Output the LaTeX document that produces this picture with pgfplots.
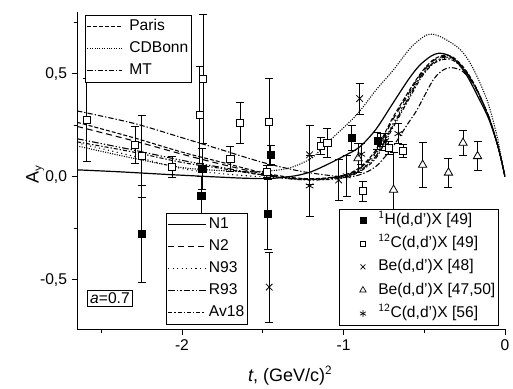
\documentclass[border=0pt]{standalone}
\usepackage{fontspec}
\setmainfont{Liberation Sans}
\usepackage{pgfplots}
\pgfplotsset{compat=1.18}
\begin{document}
\begin{tikzpicture}
\pgfplotsset{
  common/.style={
    scale only axis, width=321pt, height=238pt,
    xmin=-2.65, xmax=0, ymin=-0.74, ymax=0.80,
  },
  lgd/.style={
    legend cell align=left,
    legend style={draw=black, line width=0.5pt, fill=white, font=\fontsize{11.7}{13}\selectfont,
      inner xsep=1pt, inner ysep=1.5pt, row sep=#1,
      nodes={inner sep=1.5pt, text height=8.5pt, text depth=2.5pt}},
  },
  mleg/.style={legend image code/.code={\path[draw=none, fill=none] (0pt,0pt) -- (27pt,0pt); \draw[##1] plot coordinates {(17pt,0pt)};}},
}
\begin{axis}[common, lgd=2.5pt,
  axis x line*=bottom, axis y line*=left,
  axis line style={-, line width=0.6pt},
  tick align=outside, tick style={line width=0.6pt, black},
  major tick length=4pt, minor tick length=2.5pt,
  xtick={-2,-1,0}, minor xtick={-2.5,-1.5,-0.5},
  ytick={-0.5,0,0.5}, minor ytick={-0.25,0.25,0.75},
  /pgf/number format/assume math mode=true,
  yticklabel style={/pgf/number format/.cd, use comma, fixed, fixed zerofill, precision=1},
  xticklabel style={/pgf/number format/.cd, fixed},
  tick label style={font=\fontsize{11.7}{13}\selectfont},
  xlabel={\textit{t}, (GeV/c)$^{\mathsf{2}}$},
  ylabel={A$_{\mathsf{y}}$},
  label style={font=\fontsize{13.5}{15}\selectfont},
  xlabel style={at={(axis description cs:0.498,-0.145)}, anchor=center},
  ylabel style={at={(axis description cs:-0.098,0.49)}, anchor=center},
  legend style={at={(0.208,0.016)}, anchor=south west},
  legend image code/.code={\path[draw=none, fill=none] (0pt,0pt) -- (29pt,0pt); \draw[#1] (0pt,0pt) -- (28pt,0pt);},
]
% ---- curves ----
\addplot[black, line width=0.9pt, smooth] coordinates {
(-2.65,0.034)(-2.4,0.025)(-2.1,0.012)(-1.8,0.0)(-1.6,-0.007)(-1.45,-0.008)(-1.3,0.005)(-1.2,0.025)(-1.1,0.06)(-1.0,0.10)(-0.9,0.145)(-0.8,0.23)(-0.7,0.35)(-0.6,0.47)(-0.53,0.54)(-0.46,0.585)(-0.41,0.60)(-0.35,0.59)(-0.3,0.56)(-0.235,0.49)(-0.155,0.37)(-0.1,0.28)(-0.05,0.165)(-0.025,0.09)(0,0)};
\addlegendentry{N1}
\addplot[black, line width=0.8pt, dash pattern=on 4.5pt off 3pt, smooth] coordinates {
(-2.65,0.245)(-2.3,0.175)(-2.0,0.11)(-1.75,0.06)(-1.5,0.015)(-1.3,-0.008)(-1.15,-0.01)(-1.0,0.005)(-0.9,0.04)(-0.8,0.12)(-0.7,0.27)(-0.6,0.40)(-0.52,0.50)(-0.45,0.56)(-0.38,0.585)(-0.32,0.575)(-0.25,0.52)(-0.18,0.43)(-0.1,0.29)(-0.05,0.165)(-0.025,0.09)(0,0)};
\addlegendentry{N2}
\addplot[black, line width=0.8pt, dash pattern=on 0.8pt off 2.6pt, smooth] coordinates {
(-2.65,0.165)(-2.3,0.10)(-2.0,0.04)(-1.75,0.015)(-1.5,0.0)(-1.3,-0.01)(-1.15,-0.012)(-1.0,0.0)(-0.9,0.035)(-0.8,0.11)(-0.7,0.25)(-0.6,0.39)(-0.52,0.49)(-0.45,0.55)(-0.38,0.575)(-0.32,0.57)(-0.25,0.515)(-0.18,0.43)(-0.1,0.29)(-0.05,0.165)(-0.025,0.09)(0,0)};
\addlegendentry{N93}
\addplot[black, line width=0.8pt, dash pattern=on 5pt off 1.5pt on 1pt off 1.5pt on 1pt off 1.5pt, smooth] coordinates {
(-2.65,0.185)(-2.3,0.13)(-2.0,0.08)(-1.75,0.045)(-1.5,0.01)(-1.3,-0.01)(-1.15,-0.012)(-1.0,0.0)(-0.9,0.03)(-0.8,0.10)(-0.7,0.24)(-0.6,0.38)(-0.52,0.49)(-0.45,0.55)(-0.38,0.58)(-0.32,0.572)(-0.25,0.52)(-0.18,0.43)(-0.1,0.29)(-0.05,0.165)(-0.025,0.09)(0,0)};
\addlegendentry{R93}
\addplot[black, line width=0.8pt, dash pattern=on 3pt off 1.5pt on 1pt off 1.5pt, smooth] coordinates {
(-2.65,0.17)(-2.3,0.12)(-2.0,0.07)(-1.75,0.04)(-1.5,0.008)(-1.3,-0.012)(-1.15,-0.015)(-1.0,-0.005)(-0.9,0.025)(-0.8,0.09)(-0.7,0.23)(-0.6,0.37)(-0.52,0.48)(-0.45,0.545)(-0.38,0.57)(-0.32,0.565)(-0.25,0.515)(-0.18,0.43)(-0.1,0.29)(-0.05,0.165)(-0.025,0.09)(0,0)};
\addlegendentry{Av18}
% Paris
\addplot[black, line width=0.8pt, dash pattern=on 3pt off 1.5pt, smooth, forget plot] coordinates {
(-2.65,0.265)(-2.3,0.19)(-2.0,0.12)(-1.75,0.07)(-1.5,0.02)(-1.3,-0.005)(-1.15,-0.008)(-1.0,0.008)(-0.9,0.045)(-0.8,0.13)(-0.7,0.28)(-0.6,0.41)(-0.52,0.505)(-0.45,0.565)(-0.38,0.59)(-0.32,0.58)(-0.25,0.525)(-0.18,0.435)(-0.1,0.29)(-0.05,0.165)(-0.025,0.09)(0,0)};
% CDBonn
\addplot[black, line width=0.8pt, dash pattern=on 0.8pt off 1pt, smooth, forget plot] coordinates {
(-2.65,0.15)(-2.3,0.09)(-2.0,0.045)(-1.75,0.03)(-1.55,0.025)(-1.35,0.04)(-1.2,0.09)(-1.1,0.165)(-0.92,0.30)(-0.8,0.42)(-0.69,0.52)(-0.58,0.63)(-0.48,0.69)(-0.4,0.68)(-0.28,0.62)(-0.2,0.53)(-0.11,0.37)(-0.05,0.2)(-0.025,0.1)(0,0)};
% MT
\addplot[black, line width=0.8pt, dash pattern=on 4pt off 1.5pt on 1pt off 1.5pt, smooth, forget plot] coordinates {
(-2.65,0.32)(-2.3,0.26)(-2.0,0.19)(-1.75,0.13)(-1.5,0.07)(-1.25,0.025)(-1.0,0.0)(-0.9,0.01)(-0.8,0.05)(-0.7,0.14)(-0.6,0.26)(-0.545,0.325)(-0.445,0.47)(-0.38,0.52)(-0.33,0.53)(-0.26,0.51)(-0.18,0.43)(-0.1,0.29)(-0.05,0.165)(-0.025,0.09)(0,0)};
% ---- data ----
\pgfplotsset{every error bar/.style={black, line width=0.6pt}, error bars/error mark options={rotate=90, mark size=3pt, line width=0.6pt}}
% 12C(d,d')X [49]
\addplot[only marks, mark=square*, mark size=2.7pt, mark options={fill=white, line width=0.6pt}, forget plot,
  error bars/.cd, y dir=both, y explicit] coordinates {
(-2.59,0.277) +- (0,0.2)
(-2.29,0.155) +- (0,0.09)
(-2.25,0.10) +- (0,0.2)
(-2.06,0.048) +- (0,0.05)
(-1.87,0.475) +- (0,0.315)
(-1.89,0.30) +- (0,0.235)
(-1.70,0.088) +- (0,0.06)
(-1.64,0.26) +- (0,0.1)
(-1.46,0.267) +- (0,0.21)
(-1.475,0.025) +- (0,0.03)
(-1.14,0.15) +- (0,0.04)
(-1.10,0.165) +- (0,0.07)
(-0.88,-0.07) +- (0,0.05)
(-0.72,0.14) +- (0,0.03)
(-0.63,0.126) +- (0,0.03)};
% 1H(d,d')X [49]
\addplot[only marks, mark=square*, mark size=2.7pt, mark options={fill=black}, forget plot,
  error bars/.cd, y dir=both, y explicit] coordinates {
(-2.25,-0.275) +- (0,0.235)
(-1.875,0.04) +- (0,0.1)
(-1.88,-0.09) +- (0,0.09)
(-1.45,0.107) +- (0,0.045)
(-1.47,-0.18) +- (0,0.17)
(-0.95,0.19) +- (0,0.06)
(-0.79,0.175) +- (0,0.04)};
% Be(d,d')X [48]
\addplot[only marks, mark=x, mark size=3.5pt, mark options={line width=0.6pt}, forget plot,
  error bars/.cd, y dir=both, y explicit] coordinates {
(-1.46,-0.535) +- (0,0.17)
(-1.21,0.107) +- (0,0.145)
(-1.03,-0.015) +- (0,0.1)
(-0.90,0.38) +- (0,0.075)
(-0.74,0.17) +- (0,0.04)};
% Be(d,d')X [47,50]
\addplot[only marks, mark=triangle*, mark size=3.6pt, mark options={fill=white, line width=0.6pt}, forget plot,
  error bars/.cd, y dir=both, y explicit] coordinates {
(-0.91,0.09) +- (0,0.07)
(-0.69,-0.063) +- (0,0.18)
(-0.51,0.058) +- (0,0.11)
(-0.35,0.02) +- (0,0.07)
(-0.26,0.165) +- (0,0.06)
(-0.17,0.10) +- (0,0.07)};
% 12C(d,d')X [56]
\addplot[only marks, mark=asterisk, mark size=3.3pt, mark options={line width=0.6pt}, forget plot,
  error bars/.cd, y dir=both, y explicit] coordinates {
(-1.21,-0.044) +- (0,0.146)
(-0.98,0.005) +- (0,0.1)
(-0.89,0.11) +- (0,0.05)
(-0.77,0.18) +- (0,0.03)
(-0.66,0.21) +- (0,0.05)};
\node[draw=black, line width=0.5pt, fill=white, inner sep=2pt, font=\fontsize{11.7}{13}\selectfont]
  at (rel axis cs:0.077,0.098) {\textit{a}=0.7};
\end{axis}
% top-left legend
\begin{axis}[common, lgd=2.5pt, hide axis,
  legend style={at={(0.019,0.99)}, anchor=north west},
  legend image code/.code={\path[draw=none, fill=none] (0pt,0pt) -- (30pt,0pt); \draw[#1] (0pt,0pt) -- (26pt,0pt);}]
\addlegendimage{black, line width=0.8pt, dash pattern=on 3pt off 1.5pt}
\addlegendentry{Paris}
\addlegendimage{black, line width=0.8pt, dash pattern=on 0.8pt off 1pt}
\addlegendentry{CDBonn}
\addlegendimage{black, line width=0.8pt, dash pattern=on 4pt off 1.5pt on 1pt off 1.5pt}
\addlegendentry{MT}
\end{axis}
% right legend
\begin{axis}[common, lgd=3.5pt, hide axis,
  legend style={at={(0.986,0.013)}, anchor=south east}]
\addlegendimage{only marks, mark=square*, mark size=2.2pt, mark options={fill=black}, mleg}
\addlegendentry{$^{\mathsf{1}}$H(d,d')X [49]}
\addlegendimage{only marks, mark=square*, mark size=2pt, mark options={fill=white, line width=0.5pt}, mleg}
\addlegendentry{$^{\mathsf{12}}$C(d,d')X [49]}
\addlegendimage{only marks, mark=x, mark size=2.6pt, mark options={line width=0.5pt}, mleg}
\addlegendentry{Be(d,d')X [48]}
\addlegendimage{only marks, mark=triangle*, mark size=2.8pt, mark options={fill=white, line width=0.5pt}, mleg}
\addlegendentry{Be(d,d')X [47,50]}
\addlegendimage{only marks, mark=asterisk, mark size=2.6pt, mark options={line width=0.5pt}, mleg}
\addlegendentry{$^{\mathsf{12}}$C(d,d')X [56]}
\end{axis}
\pgfresetboundingbox
\path[use as bounding box] ([xshift=-57.75pt,yshift=-44.25pt]current axis.south west) rectangle ([xshift=6pt,yshift=9pt]current axis.north east);
\end{tikzpicture}
\end{document}
